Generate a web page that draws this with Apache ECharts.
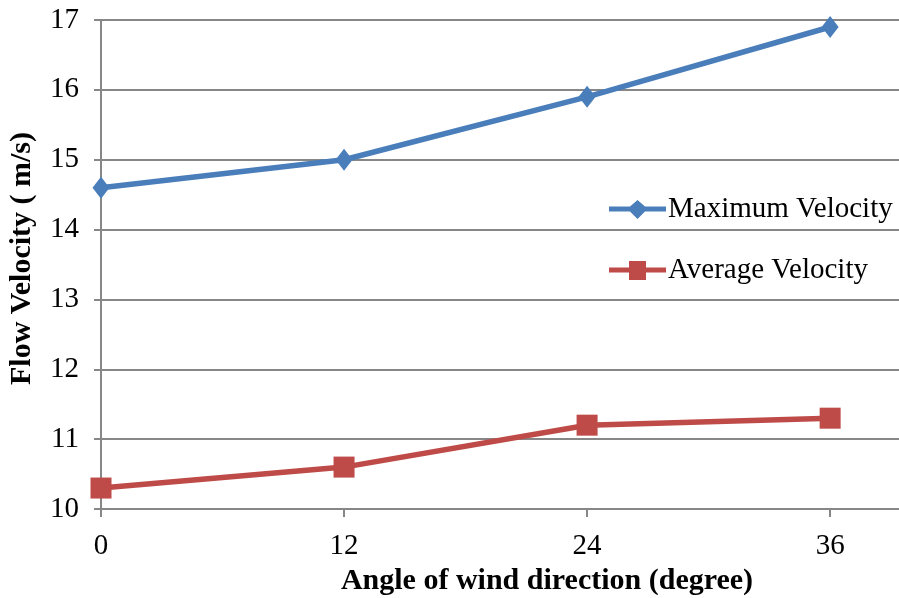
<!DOCTYPE html>
<html>
<head>
<meta charset="utf-8">
<script src="https://cdn.jsdelivr.net/npm/echarts@6/dist/echarts.min.js"></script>
<style>
  html, body { margin: 0; padding: 0; background: #fff; }
  #chart { width: 899px; height: 598px; }
</style>
</head>
<body>
<div id="chart"></div>
<script>
// Wind direction angles (degrees)
const angles = [0, 12, 24, 36];
const xTicks = [0, 12, 24, 36];
// Flow velocities (m/s)
const maxVelocity = [14.6, 15.0, 15.9, 16.9];
const avgVelocity = [10.3, 10.6, 11.2, 11.3];
const yTicks = [10, 11, 12, 13, 14, 15, 16, 17];

const FONT = '"Liberation Serif", "Times New Roman", serif';
const AXIS = '#878787';

// legend glyphs: a thick line segment with the series marker in the middle
const diamondIcon = 'path://M0,6.5 L21,6.5 L28.5,0 L36,6.5 L57,6.5 L57,11.5 L36,11.5 L28.5,19 L21,11.5 L0,11.5 Z';
const squareIcon = 'path://M0,6.5 L20,6.5 L20,0 L37,0 L37,6.5 L57,6.5 L57,11.5 L37,11.5 L37,19 L20,19 L20,11.5 L0,11.5 Z';

const chart = echarts.init(document.getElementById('chart'));
chart.setOption({
  animation: false,
  backgroundColor: '#fff',
  grid: { left: 101, right: 0, top: 20, bottom: 89, containLabel: false, outerBoundsMode: 'none' },
  legend: {
    orient: 'vertical',
    left: 604,
    top: 190,
    itemWidth: 57,
    itemHeight: 19,
    itemGap: 32,
    textStyle: { fontFamily: FONT, fontSize: 29, color: '#000', padding: [0, 0, 0, -3] },
    data: [
      { name: 'Maximum Velocity', icon: diamondIcon },
      { name: 'Average Velocity', icon: squareIcon }
    ]
  },
  xAxis: {
    type: 'value',
    min: 0,
    max: 39.4,
    interval: 12,
    name: 'Angle of wind direction (degree)',
    nameLocation: 'middle',
    nameGap: 56,
    nameTextStyle: { fontFamily: FONT, fontSize: 30, fontWeight: 'bold', color: '#000', padding: [0, 0, 0, 94] },
    axisLine: { show: true, lineStyle: { color: AXIS, width: 2 } },
    axisTick: { show: true, length: 8, customValues: xTicks, lineStyle: { color: AXIS, width: 2 } },
    axisLabel: { customValues: xTicks, fontFamily: FONT, fontSize: 29, color: '#000', margin: 23 },
    splitLine: { show: false }
  },
  yAxis: {
    type: 'value',
    min: 10,
    max: 17,
    interval: 1,
    name: 'Flow Velocity ( m/s)',
    nameLocation: 'middle',
    nameGap: 64,
    nameTextStyle: { fontFamily: FONT, fontSize: 30, fontWeight: 'bold', color: '#000', padding: [0, 0, 0, 12] },
    axisLine: { show: true, lineStyle: { color: AXIS, width: 2 } },
    axisTick: { show: true, length: 7, lineStyle: { color: AXIS, width: 2 } },
    axisLabel: { fontFamily: FONT, fontSize: 29, color: '#000', margin: 22 },
    splitLine: { show: true, lineStyle: { color: AXIS, width: 2 } }
  },
  series: [
    {
      name: 'Maximum Velocity',
      type: 'line',
      data: angles.map((a, i) => [a, maxVelocity[i]]),
      symbol: 'diamond',
      symbolSize: [17, 22],
      lineStyle: { color: '#4a7ebb', width: 5.5 },
      itemStyle: { color: '#4a7ebb' }
    },
    {
      name: 'Average Velocity',
      type: 'line',
      data: angles.map((a, i) => [a, avgVelocity[i]]),
      symbol: 'rect',
      symbolSize: 21,
      lineStyle: { color: '#be4b48', width: 5.5 },
      itemStyle: { color: '#be4b48' }
    }
  ]
});
</script>
</body>
</html>
